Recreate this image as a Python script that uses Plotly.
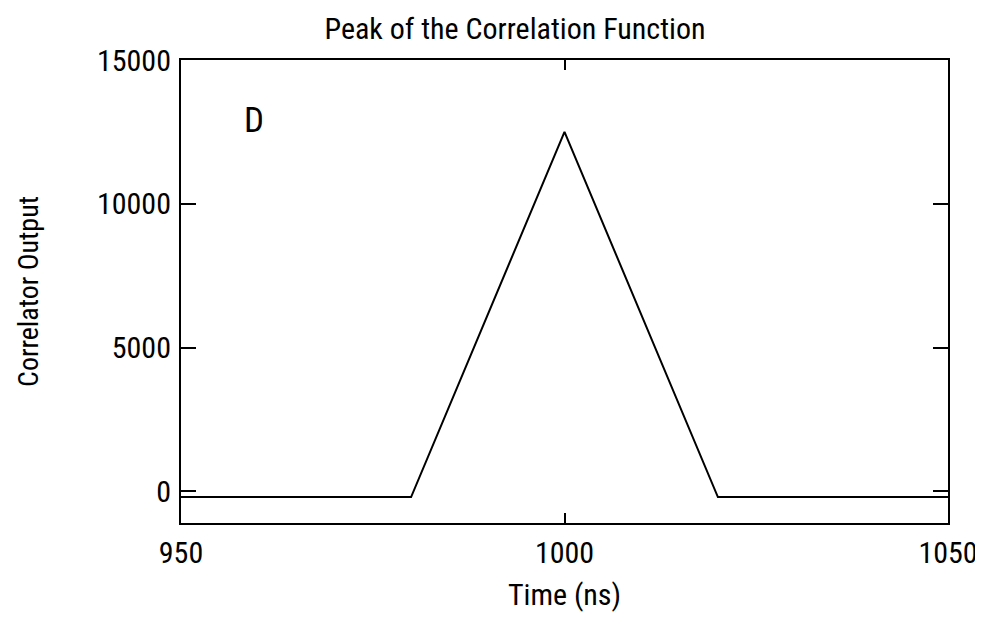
import plotly.graph_objects as go

time_ns = [950, 980, 1000, 1020, 1050]
correlator_output = [-200, -200, 12500, -200, -200]
x_ticks = [950, 1000, 1050]
y_ticks = [0, 5000, 10000, 15000]

FONT = "Roboto Condensed, DejaVu Sans Condensed, Liberation Sans Narrow, Noto Sans"

fig = go.Figure()
fig.add_trace(go.Scatter(x=time_ns, y=correlator_output, mode="lines",
                         line=dict(color="black", width=2), showlegend=False))

W, H = 975, 604
tf = dict(family=FONT, size=30, color="black")
fig.update_layout(
    width=W, height=H,
    margin=dict(l=173, r=35, t=52, b=89),
    paper_bgcolor="white", plot_bgcolor="white",
    font=tf,
    title=dict(text="Peak of the Correlation Function", x=507 / W, xanchor="center",
               y=1 - 20 / H, yanchor="middle", font=dict(family=FONT, size=30, color="black")),
    annotations=[dict(x=959.5, y=12880, xref="x", yref="y", text="D", showarrow=False,
                      font=dict(family=FONT, size=35, color="black"))],
)
fig.update_xaxes(range=[950, 1050], tickvals=x_ticks, ticks="inside", ticklen=10,
                 tickwidth=2, tickcolor="black", showline=True, linewidth=2, linecolor="black",
                 mirror="ticks", showgrid=False, zeroline=False, automargin=False, tickfont=tf,
                 tickformat="d", ticklabeloverflow="allow",
                 title=dict(text="Time (ns)", standoff=22, font=tf), ticklabelstandoff=2)
fig.update_yaxes(range=[-1100, 15000], tickvals=y_ticks, ticks="inside", ticklen=15,
                 tickwidth=2, tickcolor="black", showline=True, linewidth=2, linecolor="black",
                 mirror="ticks", showgrid=False, zeroline=False, automargin=False, tickfont=tf,
                 tickformat="d",
                 title=dict(text="Correlator Output", standoff=50,
                            font=dict(family=FONT, size=28, color="black")),
                 ticklabelstandoff=2)

fig.write_html("out.html")
